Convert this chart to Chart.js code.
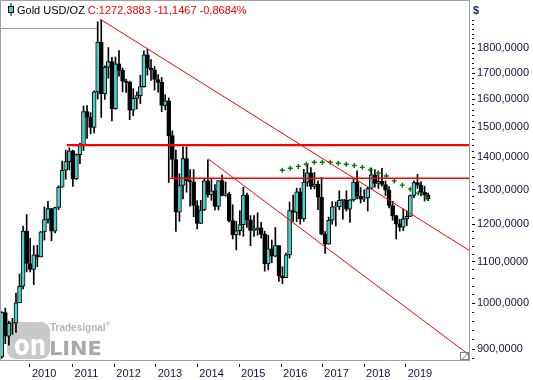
<!DOCTYPE html>
<html><head><meta charset="utf-8">
<script src="https://cdn.jsdelivr.net/npm/chart.js@4.4.1/dist/chart.umd.min.js"></script>
<style>html,body{margin:0;padding:0;background:#fff}#wrap{width:533px;height:380px;position:relative}</style>
</head><body><div id="wrap"><canvas id="c"></canvas></div>
<script>
// ---- data (monthly Gold USD/OZ candles) ----
const months = [
 '2009-05','2009-06','2009-07','2009-08','2009-09','2009-10','2009-11','2009-12',
 '2010-01','2010-02','2010-03','2010-04','2010-05','2010-06','2010-07','2010-08','2010-09','2010-10','2010-11','2010-12',
 '2011-01','2011-02','2011-03','2011-04','2011-05','2011-06','2011-07','2011-08','2011-09','2011-10','2011-11','2011-12',
 '2012-01','2012-02','2012-03','2012-04','2012-05','2012-06','2012-07','2012-08','2012-09','2012-10','2012-11','2012-12',
 '2013-01','2013-02','2013-03','2013-04','2013-05','2013-06','2013-07','2013-08','2013-09','2013-10','2013-11','2013-12',
 '2014-01','2014-02','2014-03','2014-04','2014-05','2014-06','2014-07','2014-08','2014-09','2014-10','2014-11','2014-12',
 '2015-01','2015-02','2015-03','2015-04','2015-05','2015-06','2015-07','2015-08','2015-09','2015-10','2015-11','2015-12',
 '2016-01','2016-02','2016-03','2016-04','2016-05','2016-06','2016-07','2016-08','2016-09','2016-10','2016-11','2016-12',
 '2017-01','2017-02','2017-03','2017-04','2017-05','2017-06','2017-07','2017-08','2017-09','2017-10','2017-11','2017-12',
 '2018-01','2018-02','2018-03','2018-04','2018-05','2018-06','2018-07','2018-08','2018-09','2018-10','2018-11','2018-12',
 '2019-01','2019-02','2019-03','2019-04','2019-05'];
const opens = [
 884,979,927,955,955,1001,1040,1181,
 1096,1081,1118,1113,1179,1213,1244,1181,1247,1307,1359,1386,
 1421,1332,1409,1439,1556,1536,1500,1628,1826,1620,1723,1746,
 1566,1737,1711,1669,1664,1561,1604,1614,1648,1773,1719,1713,
 1675,1664,1578,1595,1472,1393,1234,1312,1396,1327,1323,1253,
 1202,1240,1326,1284,1296,1250,1327,1282,1287,1210,1171,1182,
 1199,1283,1212,1183,1184,1190,1172,1095,1134,1115,1142,1065,
 1061,1118,1238,1233,1293,1215,1322,1351,1309,1316,1277,1173,
 1146,1211,1249,1249,1268,1268,1242,1269,1322,1280,1271,1275,
 1303,1345,1318,1325,1315,1298,1253,1224,1201,1192,1215,1222,
 1282,1321,1313,1292,1283];
const highs = [
 981,989,960,966,1024,1070,1195,1227,
 1162,1142,1143,1180,1249,1265,1245,1248,1311,1388,1424,1431,
 1424,1411,1447,1576,1577,1552,1632,1913,1921,1729,1803,1763,
 1764,1791,1720,1677,1669,1640,1628,1692,1790,1796,1754,1726,
 1694,1683,1617,1605,1488,1424,1348,1434,1434,1361,1361,1267,
 1268,1332,1392,1331,1315,1326,1345,1323,1292,1255,1208,1238,
 1307,1289,1224,1224,1232,1205,1181,1170,1157,1191,1142,1088,
 1123,1263,1283,1304,1304,1362,1375,1367,1352,1326,1337,1180,
 1220,1264,1263,1296,1270,1296,1270,1331,1357,1306,1299,1307,
 1366,1361,1356,1365,1326,1309,1265,1225,1214,1243,1237,1284,
 1326,1346,1324,1310,1289];
const lows = [
 881,911,908,931,935,1003,1034,1075,
 1075,1044,1088,1113,1157,1203,1155,1176,1241,1307,1331,1360,
 1309,1330,1380,1422,1462,1478,1481,1601,1535,1600,1680,1523,
 1564,1688,1628,1626,1527,1541,1565,1584,1646,1692,1672,1635,
 1627,1555,1562,1321,1338,1180,1208,1272,1292,1251,1221,1187,
 1202,1238,1277,1268,1240,1240,1281,1280,1206,1160,1131,1170,
 1167,1191,1142,1167,1170,1162,1077,1080,1098,1113,1052,1046,
 1062,1110,1208,1207,1200,1208,1310,1301,1302,1241,1171,1122,
 1146,1200,1195,1241,1214,1237,1205,1265,1272,1260,1264,1237,
 1302,1307,1303,1310,1282,1246,1211,1160,1181,1182,1196,1221,
 1276,1303,1281,1266,1267];
const closes = [
 979,927,955,955,1001,1040,1181,1096,
 1081,1118,1113,1179,1213,1244,1181,1247,1307,1359,1386,1421,
 1332,1409,1439,1556,1536,1500,1628,1826,1620,1723,1746,1566,
 1737,1711,1669,1664,1561,1604,1614,1648,1773,1719,1713,1675,
 1664,1578,1595,1472,1393,1234,1312,1396,1327,1323,1253,1202,
 1240,1326,1284,1296,1250,1327,1282,1287,1210,1171,1182,1199,
 1283,1212,1183,1184,1190,1172,1095,1134,1115,1142,1065,1061,
 1118,1238,1233,1293,1215,1322,1351,1309,1316,1277,1173,1146,
 1211,1249,1249,1268,1268,1242,1269,1322,1280,1271,1275,1303,
 1345,1318,1325,1315,1298,1253,1224,1201,1192,1215,1222,1282,
 1321,1313,1292,1283,1272.3883];

// tick labels (year marks sit where the source's time axis puts them, in month-index units)
const yearTicks = ['2010','2011','2012','2013','2014','2015','2016','2017','2018','2019'];
const yearTickPos = [7.94,19.93,31.67,43.32,55.03,66.77,78.59,90.21,101.95,113.68];
const priceMajorTicks = [900,1000,1100,1200,1300,1400,1500,1600,1700,1800];
const priceMinorTicks = [880,920,940,960,980,1020,1040,1060,1080,1120,1140,1160,1180,
 1220,1240,1260,1280,1320,1340,1360,1380,1420,1440,1460,1480,1520,1540,1560,1580,
 1620,1640,1660,1680,1720,1740,1760,1780,1820,1840,1860,1880,1900,1920];

// drawn lines (month index, price)
const resistanceHigh = [{x:18.3,y:1440},{x:131.5,y:1440}];
const resistanceLow  = [{x:47.3,y:1334},{x:131.5,y:1334}];
const trendUpper     = [{x:27.7,y:1925},{x:131.5,y:1130}];
const trendLower     = [{x:58.1,y:1395},{x:131.5,y:888}];
// dotted arc of green markers
const arcIdx   = [78.95,81.2,83.46,85.71,87.96,90.21,92.46,94.71,96.97,99.22,101.47,103.72,105.97,108.23,110.48,112.73,114.98,117.23,119.48];
const arcPrice = [1359,1365,1371,1378,1384,1384,1384,1381,1378,1374,1368,1360,1350,1341,1326,1313,1301,1289,1277];

// ---- chart ----
const TEAL = '#48d1cc';
const LABEL = '#14143c';
Chart.defaults.font.family = '"Liberation Sans", Arial, sans-serif';
Chart.defaults.font.size = 11;

const wickData = months.map((m,i)=>({x:i, y:[lows[i], highs[i]]}));
const bodyData = months.map((m,i)=>({x:i, y:[opens[i], closes[i]]}));
const bodyColors = months.map((m,i)=> closes[i] >= opens[i] ? TEAL : '#000');

const deco = {
  id: 'deco',
  beforeDatasetsDraw(chart) {
    const {ctx, chartArea: a} = chart;
    ctx.save();
    ctx.strokeStyle = '#a0a0a0'; ctx.lineWidth = 1;
    ctx.beginPath(); ctx.moveTo(a.left, 28.5); ctx.lineTo(a.left + 97, 28.5); ctx.stroke();
    // watermark logo
    ctx.fillStyle = '#c9c9c9';
    ctx.beginPath(); ctx.roundRect(a.left + 7, a.bottom - 38, 43, 37, 9); ctx.fill();
    ctx.textBaseline = 'alphabetic';
    ctx.save(); ctx.translate(a.left + 14, a.bottom - 5); ctx.scale(0.82, 1);
    ctx.font = 'bold 28px "DejaVu Sans"'; ctx.fillStyle = '#ffffff'; ctx.fillText('on', 0, 0);
    ctx.restore();
    ctx.save(); ctx.translate(a.left + 49, a.bottom - 5); ctx.scale(1.1, 1);
    ctx.font = 'bold 19px "DejaVu Sans"'; ctx.fillStyle = '#a9a9a9'; ctx.fillText('LINE', 0, 0);
    ctx.restore();
    ctx.font = 'bold 10px "Liberation Sans"'; ctx.fillStyle = '#b5b5b5';
    ctx.fillText('Tradesignal', a.left + 50, a.bottom - 29);
    ctx.font = 'bold 6px "Liberation Sans"'; ctx.fillText('®', a.left + 106, a.bottom - 34);
    ctx.restore();
  },
  afterDraw(chart) {
    const {ctx, chartArea: a} = chart;
    ctx.save();
    ctx.strokeStyle = '#a0a0a0'; ctx.lineWidth = 1;
    ctx.strokeRect(a.left + 0.5, a.top + 0.5, a.right - a.left, a.bottom - a.top);
    // resize glyph bottom-right
    ctx.strokeStyle = '#808080';
    ctx.strokeRect(a.right - 8.5, a.bottom - 7.5, 8, 7);
    ctx.beginPath(); ctx.moveTo(a.right - 7, a.bottom - 0.5); ctx.lineTo(a.right - 1.5, a.bottom - 6); ctx.stroke();
    // legend
    ctx.strokeStyle = '#000';
    ctx.beginPath(); ctx.moveTo(11, 3); ctx.lineTo(11, 16); ctx.stroke();
    ctx.fillStyle = TEAL; ctx.fillRect(8.5, 6.5, 5, 6); ctx.strokeRect(8.5, 6.5, 5, 6);
    ctx.font = '11px "Liberation Sans"'; ctx.textBaseline = 'alphabetic';
    ctx.fillStyle = '#000';
    const t1 = 'Gold USD/OZ';
    ctx.fillText(t1, 17, 14);
    const w1 = ctx.measureText(t1).width;
    ctx.fillStyle = '#ff0000';
    ctx.fillText('C:1272,3883 -11,1467 -0,8684%', 17 + w1 + 3, 14);
    // currency
    ctx.fillStyle = '#1c2a78';
    ctx.font = 'bold 11px "Liberation Sans"';
    ctx.fillText('$', a.right + 4, 14);
    ctx.restore();
  }
};

new Chart(document.getElementById('c'), {
  type: 'bar',
  data: {
    datasets: [
      {type:'line', data: resistanceHigh, borderColor:'#ff0000', borderWidth:2.4, pointRadius:0, order:0},
      {type:'line', data: resistanceLow, borderColor:'#ff0000', borderWidth:1.5, pointRadius:0, order:0},
      {type:'line', data: trendUpper, borderColor:'#ff0000', borderWidth:1, pointRadius:0, order:0},
      {type:'line', data: trendLower, borderColor:'#ff0000', borderWidth:1, pointRadius:0, order:0},
      {type:'line', data: arcIdx.map((v,i)=>({x:v, y:arcPrice[i]})), showLine:false,
        pointStyle:'cross', pointRadius:2.5, pointBorderWidth:1.4, pointBorderColor:'#007a00', order:0},
      {type:'bar', data: bodyData, backgroundColor: bodyColors, borderColor:'#000', borderWidth:1,
        borderSkipped:false, barThickness:4, minBarLength:1, grouped:false, order:1},
      {type:'bar', data: wickData, backgroundColor:'#000', borderWidth:0, barThickness:1, grouped:false, order:2}
    ]
  },
  options: {
    responsive: true, maintainAspectRatio: false, animation: false,
    devicePixelRatio: 1,
    layout: {padding: 0, autoPadding: false},
    plugins: {legend:{display:false}, tooltip:{enabled:false}},
    events: [],
    scales: {
      x: {
        type: 'linear', min: -0.5, max: 131.5, bounds: 'data', offset: false,
        grid: {drawOnChartArea:false, drawTicks:true, tickLength:8, tickColor:'#000', tickBorderDash:[0,4,3,20], offset:false},
        border: {display:false},
        afterBuildTicks: s => { s.ticks = yearTickPos.map(v => ({value: v})); },
        afterFit: s => { s.height = 20; s.paddingLeft = 0; s.paddingRight = 0; },
        ticks: {
          autoSkip:false, maxRotation:0, align:'start', labelOffset:2, padding:-1, color: LABEL,
          callback: v => { const k = yearTickPos.indexOf(v); return k >= 0 ? yearTicks[k] : ''; }
        }
      },
      y: {
        type: 'logarithmic', position: 'right', min: 877.5, max: 2012, bounds: 'data',
        grid: {drawOnChartArea:false, drawTicks:true, tickLength:6, tickColor:'#000',
          tickBorderDash: c => priceMajorTicks.includes(c.tick && c.tick.value) ? [0,3,3,20] : [0,3,2,20]},
        border: {display:false},
        afterBuildTicks: s => {
          s.ticks = priceMajorTicks.concat(priceMinorTicks).sort((a,b)=>a-b).map(v => ({value: v}));
        },
        afterFit: s => { s.width = 64; s.paddingTop = 0; s.paddingBottom = 0; },
        ticks: {
          autoSkip:false, padding:2, color: LABEL,
          callback: v => priceMajorTicks.includes(v) ? v.toFixed(4).replace('.', ',') : ''
        }
      }
    }
  },
  plugins: [deco]
});
</script>
</body></html>
